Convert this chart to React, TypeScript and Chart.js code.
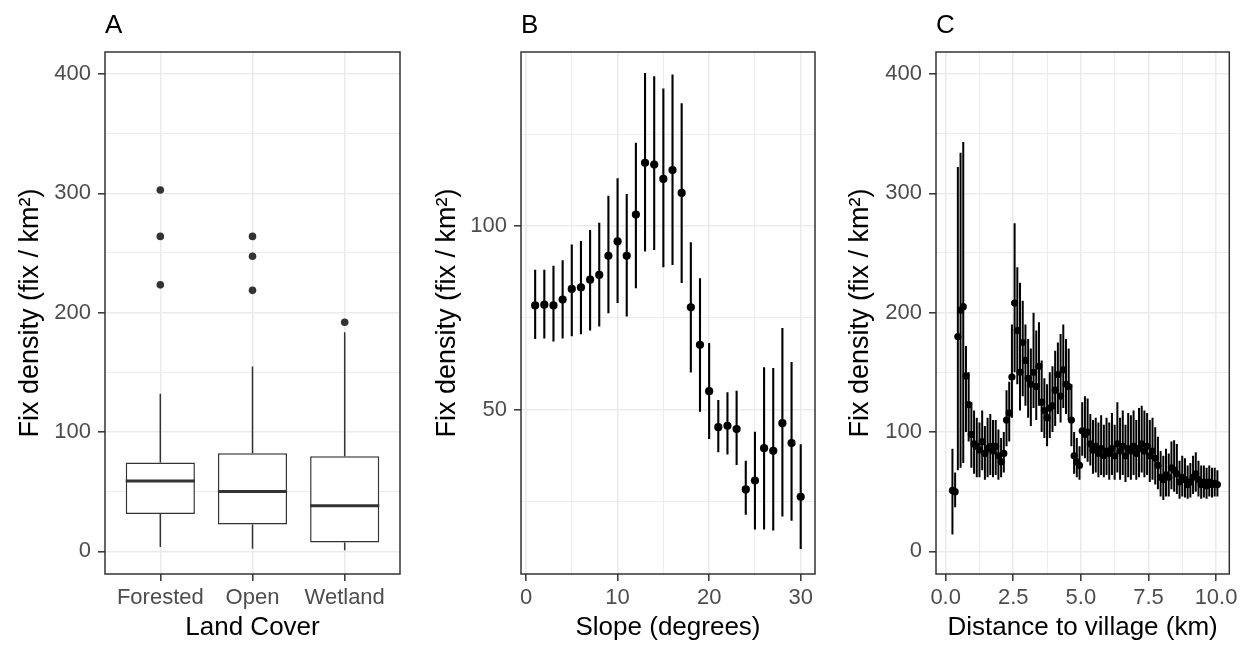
import React, { useEffect, useRef } from "react";
import { Chart, registerables } from "chart.js";

Chart.register(...registerables);

const FONT = "'Liberation Sans', Arial, Helvetica, sans-serif";
const TICK_COLOR = "#4D4D4D";
const GRID = "#EBEBEB";
const DARK = "#333333";
const Y_TITLE = "Fix density (fix / km²)";

// ---------- Panel A : box plots ----------
const LAND_COVER = ["Forested", "Open", "Wetland"];
const A_WHISKER_LOW = [3.6, 2.2, 0.8];
const A_Q1 = [31.3, 22.4, 7.3];
const A_MEDIAN = [59.0, 50.2, 38.1];
const A_Q3 = [74.5, 82.1, 79.6];
const A_WHISKER_HIGH = [132.0, 154.9, 183.5];
const A_OUTLIER_GROUP = ["Forested", "Forested", "Forested", "Open", "Open", "Open", "Wetland"];
const A_OUTLIER_VALUE = [302.8, 263.9, 223.3, 263.9, 247.3, 218.7, 191.9];
const A_Y_MAJOR = [0, 100, 200, 300, 400];
const A_Y_MINOR = [50, 150, 250, 350];
const BOX_HALF = 0.375;

// ---------- Panel B : slope ----------
const B_SLOPE = [1, 2, 3, 4, 5, 6, 7, 8, 9, 10, 11, 12, 13, 14, 15, 16, 17, 18, 19, 20, 21, 22, 23, 24, 25, 26, 27, 28, 29, 30];
const B_MEAN = [78.4, 78.6, 78.4, 80.0, 82.9, 83.3, 85.4, 86.7, 91.9, 95.8, 91.9, 103.1, 117.2, 116.7, 112.8, 115.2, 109.0, 77.9, 67.7, 55.1, 45.3, 45.7, 44.8, 28.4, 30.8, 39.6, 38.9, 46.4, 41.0, 26.4];
const B_LOW = [69.3, 69.4, 68.6, 69.4, 70.0, 70.6, 71.6, 72.7, 76.3, 79.1, 75.4, 83.1, 93.1, 93.5, 88.8, 89.4, 84.5, 60.2, 49.5, 42.1, 38.5, 37.9, 35.0, 21.5, 17.5, 17.5, 17.2, 21.0, 19.9, 12.2];
const B_HIGH = [88.1, 88.1, 89.2, 90.7, 95.0, 95.9, 98.9, 100.9, 108.2, 113.0, 108.7, 122.6, 141.6, 140.7, 137.4, 141.2, 133.4, 95.6, 85.8, 68.2, 52.7, 54.8, 55.2, 36.2, 44.1, 61.6, 61.4, 72.3, 63.0, 40.7];
const B_X_MAJOR = [0, 10, 20, 30];
const B_X_MINOR = [5, 15, 25];
const B_Y_MAJOR = [50, 100];
const B_Y_MINOR = [25, 75, 125];

// ---------- Panel C : distance to village ----------
const C_DIST = [
  0.25, 0.35, 0.45, 0.55, 0.65, 0.75, 0.85, 0.95, 1.05, 1.15,
  1.25, 1.35, 1.45, 1.55, 1.65, 1.75, 1.85, 1.95, 2.05, 2.15,
  2.25, 2.35, 2.45, 2.55, 2.65, 2.75, 2.85, 2.95, 3.05, 3.15,
  3.25, 3.35, 3.45, 3.55, 3.65, 3.75, 3.85, 3.95, 4.05, 4.15,
  4.25, 4.35, 4.45, 4.55, 4.65, 4.75, 4.85, 4.95, 5.05, 5.15,
  5.25, 5.35, 5.45, 5.55, 5.65, 5.75, 5.85, 5.95, 6.05, 6.15,
  6.25, 6.35, 6.45, 6.55, 6.65, 6.75, 6.85, 6.95, 7.05, 7.15,
  7.25, 7.35, 7.45, 7.55, 7.65, 7.75, 7.85, 7.95, 8.05, 8.15,
  8.25, 8.35, 8.45, 8.55, 8.65, 8.75, 8.85, 8.95, 9.05, 9.15,
  9.25, 9.35, 9.45, 9.55, 9.65, 9.75, 9.85, 9.95, 10.05,
];
const C_MEAN = [
  51, 50, 180, 202, 205, 147, 123, 98, 90, 88,
  85, 92, 82, 86, 88, 84, 88, 80, 75, 82,
  110, 116, 146, 208, 185, 150, 175, 160, 145, 140,
  150, 138, 155, 125, 118, 112, 120, 122, 135, 148,
  130, 152, 140, 138, 110, 80, 75, 72, 101, 98,
  100, 90, 85, 88, 82, 86, 80, 84, 82, 86,
  80, 90, 84, 88, 80, 86, 84, 88, 82, 86,
  90, 84, 88, 80, 84, 78, 72, 62, 60, 64,
  62, 70, 68, 65, 58, 62, 60, 56, 58, 62,
  65, 60, 56, 58, 55, 58, 56, 57, 56,
];
const C_LOW = [
  14, 37, 68, 70, 74, 100, 92, 70, 65, 62,
  62, 68, 60, 62, 64, 62, 64, 60, 62, 66,
  88, 92, 112, 150, 140, 118, 130, 122, 112, 105,
  120, 110, 122, 100, 95, 88, 95, 100, 105, 115,
  108, 120, 115, 110, 88, 65, 62, 60, 80, 78,
  75, 72, 65, 66, 62, 64, 62, 64, 60, 64,
  60, 66, 60, 64, 58, 62, 60, 64, 60, 62,
  66, 62, 64, 58, 60, 56, 52, 46, 43, 46,
  46, 52, 50, 48, 44, 46, 45, 44, 45, 48,
  50, 46, 44, 45, 44, 46, 45, 46, 46,
];
const C_HIGH = [
  86, 66, 322, 334, 343, 172, 150, 125, 118, 112,
  108, 118, 105, 112, 115, 110, 110, 102, 95, 100,
  135, 142, 190, 275, 238, 225, 210, 190, 178, 170,
  200, 185, 192, 160, 145, 140, 150, 155, 168, 175,
  182, 190, 178, 170, 140, 100, 95, 88, 125, 130,
  128, 115, 110, 112, 108, 114, 106, 112, 108, 116,
  106, 125, 112, 118, 106, 116, 114, 118, 110, 120,
  122, 118, 116, 110, 112, 104, 96, 84, 80, 86,
  82, 92, 93, 90, 76, 80, 78, 72, 74, 80,
  83, 76, 72, 72, 70, 72, 70, 70, 68,
];
const C_X_MAJOR = [0, 2.5, 5, 7.5, 10];
const C_X_MINOR = [1.25, 3.75, 6.25, 8.75];
const C_Y_MAJOR = [0, 100, 200, 300, 400];
const C_Y_MINOR = [50, 150, 250, 350];

// ---------- helpers ----------
type ScaleOpts = {
  min: number;
  max: number;
  major: number[];
  minor: number[];
  label: (v: number) => string;
  size: number;
  axis: "x" | "y";
  title: string;
  pad: number;
  titleSize: number;
};

function makeScale(o: ScaleOpts): any {
  const isMajor = (v: number) => o.major.some((m) => Math.abs(m - v) < 1e-9);
  return {
    type: "linear",
    min: o.min,
    max: o.max,
    offset: false,
    afterBuildTicks: (scale: any) => {
      scale.ticks = [...o.major, ...o.minor].sort((a, b) => a - b).map((value) => ({ value }));
    },
    afterFit: (scale: any) => {
      if (o.axis === "y") scale.width = o.size;
      else scale.height = o.size;
    },
    border: { display: false },
    grid: {
      offset: false,
      drawOnChartArea: true,
      drawTicks: true,
      color: GRID,
      lineWidth: (c: any) => (c.tick && isMajor(c.tick.value) ? 1.6 : 0.9),
      tickLength: 7,
      tickWidth: 1.5,
      tickColor: (c: any) => (c.tick && isMajor(c.tick.value) ? DARK : "rgba(0,0,0,0)"),
    },
    ticks: {
      autoSkip: false,
      maxRotation: 0,
      minRotation: 0,
      padding: o.pad,
      color: TICK_COLOR,
      font: { family: FONT, size: 22 },
      callback: (v: any) => (isMajor(Number(v)) ? o.label(Number(v)) : ""),
    },
    title: {
      display: true,
      text: o.title,
      color: "#000000",
      font: { family: FONT, size: o.titleSize },
      padding: 0,
    },
  };
}

const panelBorder = {
  id: "panelBorder",
  afterDraw(chart: any) {
    const { ctx, chartArea: a } = chart;
    ctx.save();
    ctx.strokeStyle = DARK;
    ctx.lineWidth = 1.5;
    ctx.strokeRect(a.left, a.top, a.right - a.left, a.bottom - a.top);
    ctx.restore();
  },
};

function errorSegments(xs: number[], lo: number[], hi: number[]) {
  return xs.flatMap((x, i) => [
    { x, y: lo[i] },
    { x, y: hi[i] },
    { x, y: null },
  ]);
}

function baseOptions(padding: any, scales: any) {
  return {
    responsive: false,
    animation: false,
    events: [],
    layout: { padding },
    plugins: { legend: { display: false }, tooltip: { enabled: false }, title: { display: false } },
    scales,
  };
}

// ---------- configs ----------
function configA(): any {
  const boxes = LAND_COVER.map((_, i) => ({ x: i + 1, y: [A_Q1[i], A_Q3[i]] }));
  const whiskers = LAND_COVER.flatMap((_, i) => [
    { x: i + 1, y: A_Q3[i] },
    { x: i + 1, y: A_WHISKER_HIGH[i] },
    { x: i + 1, y: null },
    { x: i + 1, y: A_Q1[i] },
    { x: i + 1, y: A_WHISKER_LOW[i] },
    { x: i + 1, y: null },
  ]);
  const medians = LAND_COVER.flatMap((_, i) => [
    { x: i + 1 - BOX_HALF, y: A_MEDIAN[i] },
    { x: i + 1 + BOX_HALF, y: A_MEDIAN[i] },
    { x: i + 1, y: null },
  ]);
  const outliers = A_OUTLIER_VALUE.map((y, i) => ({ x: LAND_COVER.indexOf(A_OUTLIER_GROUP[i]) + 1, y }));
  return {
    type: "bar",
    data: {
      datasets: [
        {
          type: "scatter",
          data: outliers,
          backgroundColor: DARK,
          borderColor: DARK,
          pointRadius: 3.8,
          borderWidth: 0,
          order: 0,
        },
        {
          type: "line",
          data: medians,
          borderColor: DARK,
          borderWidth: 3,
          pointRadius: 0,
          showLine: true,
          spanGaps: false,
          order: 1,
        },
        {
          type: "line",
          data: whiskers,
          borderColor: DARK,
          borderWidth: 1.5,
          pointRadius: 0,
          showLine: true,
          spanGaps: false,
          order: 2,
        },
        {
          type: "bar",
          data: boxes,
          backgroundColor: "#FFFFFF",
          borderColor: DARK,
          borderWidth: 1.5,
          borderSkipped: false,
          barPercentage: 0.75,
          categoryPercentage: 1,
          order: 3,
        },
      ],
    },
    options: baseOptions(
      { left: 14, right: 10, top: 52, bottom: 2 },
      {
        x: makeScale({
          min: 0.4, max: 3.6, major: [1, 2, 3], minor: [],
          label: (v) => LAND_COVER[Math.round(v) - 1], size: 69, axis: "x", title: "Land Cover", pad: 4, titleSize: 26,
        }),
        y: makeScale({
          min: -19.0, max: 418.4, major: A_Y_MAJOR, minor: A_Y_MINOR,
          label: (v) => String(v), size: 91, axis: "y", title: Y_TITLE, pad: 7, titleSize: 27,
        }),
      }
    ),
    plugins: [panelBorder],
  };
}

function configB(): any {
  return {
    type: "scatter",
    data: {
      datasets: [
        {
          type: "scatter",
          data: B_SLOPE.map((x, i) => ({ x, y: B_MEAN[i] })),
          backgroundColor: "#000000",
          borderColor: "#000000",
          pointRadius: 4.1,
          borderWidth: 0,
          order: 0,
        },
        {
          type: "line",
          data: errorSegments(B_SLOPE, B_LOW, B_HIGH),
          borderColor: "#000000",
          borderWidth: 2.1,
          pointRadius: 0,
          showLine: true,
          spanGaps: false,
          order: 1,
        },
      ],
    },
    options: baseOptions(
      { left: 21, right: 10, top: 52, bottom: 2 },
      {
        x: makeScale({
          min: -0.546, max: 31.56, major: B_X_MAJOR, minor: B_X_MINOR,
          label: (v) => String(v), size: 69, axis: "x", title: "Slope (degrees)", pad: 4, titleSize: 26,
        }),
        y: makeScale({
          min: 5.4, max: 147.3, major: B_Y_MAJOR, minor: B_Y_MINOR,
          label: (v) => String(v), size: 90, axis: "y", title: Y_TITLE, pad: 7, titleSize: 27,
        }),
      }
    ),
    plugins: [panelBorder],
  };
}

function configC(): any {
  return {
    type: "scatter",
    data: {
      datasets: [
        {
          type: "scatter",
          data: C_DIST.map((x, i) => ({ x, y: C_MEAN[i] })),
          backgroundColor: "#000000",
          borderColor: "#000000",
          pointRadius: 3.6,
          borderWidth: 0,
          order: 0,
        },
        {
          type: "line",
          data: errorSegments(C_DIST, C_LOW, C_HIGH),
          borderColor: "#000000",
          borderWidth: 2,
          pointRadius: 0,
          showLine: true,
          spanGaps: false,
          order: 1,
        },
      ],
    },
    options: baseOptions(
      { left: 19, right: 12, top: 52, bottom: 2 },
      {
        x: makeScale({
          min: -0.358, max: 10.49, major: C_X_MAJOR, minor: C_X_MINOR,
          label: (v) => v.toFixed(1), size: 69, axis: "x", title: "Distance to village (km)", pad: 4, titleSize: 26,
        }),
        y: makeScale({
          min: -19.0, max: 418.4, major: C_Y_MAJOR, minor: C_Y_MINOR,
          label: (v) => String(v), size: 92, axis: "y", title: Y_TITLE, pad: 7, titleSize: 27,
        }),
      }
    ),
    plugins: [panelBorder],
  };
}

function Panel({ make, left, width }: { make: () => any; left: number; width: number }) {
  const ref = useRef<HTMLCanvasElement>(null);
  useEffect(() => {
    const chart = new Chart(ref.current as HTMLCanvasElement, make());
    return () => chart.destroy();
  }, []);
  return (
    <canvas
      ref={ref}
      width={width}
      height={645}
      style={{ position: "absolute", left, top: 0, width, height: 645 }}
    />
  );
}

const letterStyle = (left: number): React.CSSProperties => ({
  position: "absolute",
  left,
  top: 11,
  fontFamily: FONT,
  fontSize: 26,
  lineHeight: "26px",
  color: "#000",
});

export default function App() {
  return (
    <div
      style={{
        position: "fixed",
        left: 0,
        top: 0,
        width: 1242,
        height: 645,
        background: "#FFFFFF",
        overflow: "hidden",
      }}
    >
      <Panel make={configA} left={0} width={410} />
      <Panel make={configB} left={410} width={415} />
      <Panel make={configC} left={825} width={417} />
      <div style={letterStyle(105)}>A</div>
      <div style={letterStyle(521)}>B</div>
      <div style={letterStyle(936)}>C</div>
    </div>
  );
}
